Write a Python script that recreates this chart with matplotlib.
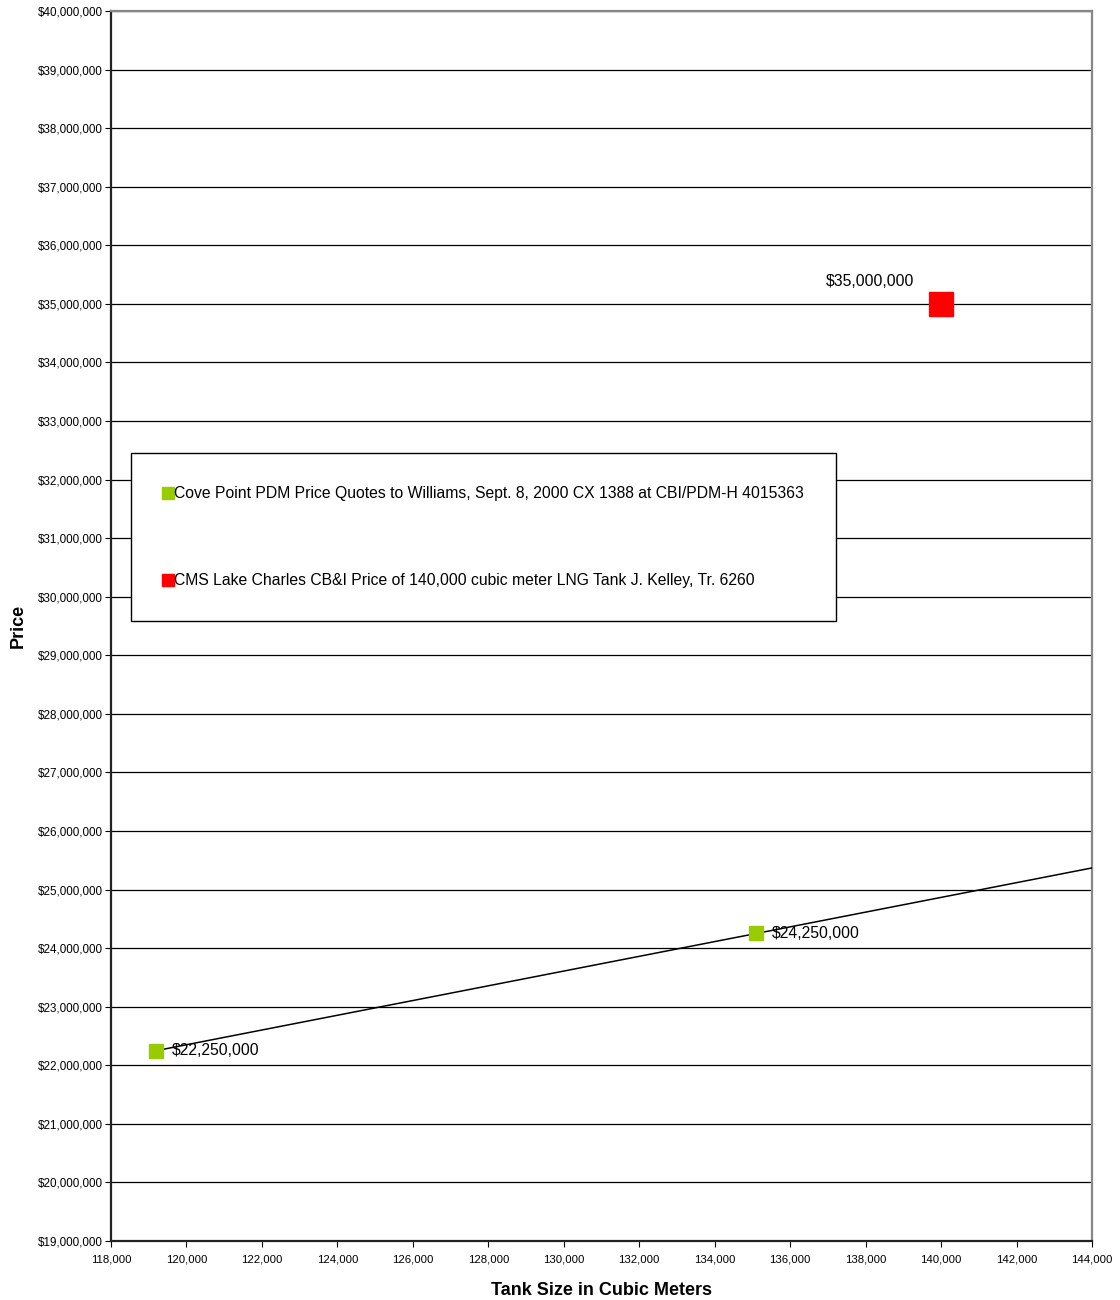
import numpy as np
import matplotlib.pyplot as plt
from matplotlib.ticker import FuncFormatter

plt.rcParams['font.family'] = ['Liberation Sans', 'DejaVu Sans']

# tank sizes (cubic meters) and prices
cove_size = [119200, 135100]
cove_price = [22250000, 24250000]
cms_size = [140000]
cms_price = [35000000]

cove_label = 'Cove Point PDM Price Quotes to Williams, Sept. 8, 2000 CX 1388 at CBI/PDM-H 4015363'
cms_label = 'CMS Lake Charles CB&I Price of 140,000 cubic meter LNG Tank J. Kelley, Tr. 6260'

fig = plt.figure(figsize=(11.2, 13), dpi=100)
ax = fig.add_axes([0.0991, 0.0454, 0.8759, 0.9461])

ax.set_xlim(118000, 144000)
ax.set_ylim(19000000, 40000000)
ax.set_xticks(np.arange(118000, 144001, 2000))
ax.set_yticks(np.arange(19000000, 40000001, 1000000))
ax.xaxis.set_major_formatter(FuncFormatter(lambda v, p: '{:,.0f}'.format(v)))
ax.yaxis.set_major_formatter(FuncFormatter(lambda v, p: '${:,.0f}'.format(v)))
ax.tick_params(axis='x', labelsize=8.2, direction='out', length=4, pad=6)
ax.tick_params(axis='y', labelsize=8.4, direction='out', length=4, pad=2)
ax.grid(axis='y', color='black', lw=0.9)
ax.set_axisbelow(True)

for s in ['left', 'bottom']:
    ax.spines[s].set_color('#222222')
    ax.spines[s].set_linewidth(1.6)
for s in ['top', 'right']:
    ax.spines[s].set_color('#888888')
    ax.spines[s].set_linewidth(1.6)

# linear trend through the Cove Point quotes, carried forward to the axis edge
fit = np.polyfit(cove_size, cove_price, 1)
tx = np.array([cove_size[0], 144000])
ax.plot(tx, np.polyval(fit, tx), color='black', lw=1.1, zorder=3)

ax.plot(cove_size, cove_price, ls='none', marker='s', ms=9.5, color='#99cc00',
        mec='#99cc00', label=cove_label, zorder=4)
ax.plot(cms_size, cms_price, ls='none', marker='s', ms=17, color='red',
        mec='red', label=cms_label, zorder=4)

for x, y in zip(cove_size, cove_price):
    ax.annotate('${:,.0f}'.format(y), (x, y), xytext=(11, 0), textcoords='offset points',
                ha='left', va='center', fontsize=11.3)
for x, y in zip(cms_size, cms_price):
    ax.annotate('${:,.0f}'.format(y), (x, y), xytext=(-19, 11), textcoords='offset points',
                ha='right', va='bottom', fontsize=11.3)

ax.set_xlabel('Tank Size in Cubic Meters', fontsize=13, fontweight='bold', labelpad=12)
ax.set_ylabel('Price', fontsize=13, fontweight='bold', labelpad=8)

leg = ax.legend(loc='upper left', bbox_to_anchor=(0.117, 0.5515, 0.629, 0.1), mode='expand',
                bbox_transform=fig.transFigure, fontsize=11.3,
                handlelength=0.45, handletextpad=0.2, labelspacing=4.6,
                borderpad=2.1, borderaxespad=0, fancybox=False, framealpha=1)
leg.get_frame().set_edgecolor('black')
leg.get_frame().set_linewidth(1.0)
for h in leg.legend_handles:
    h.set_markersize(8.3)

fig.savefig('out.png', dpi=100)
